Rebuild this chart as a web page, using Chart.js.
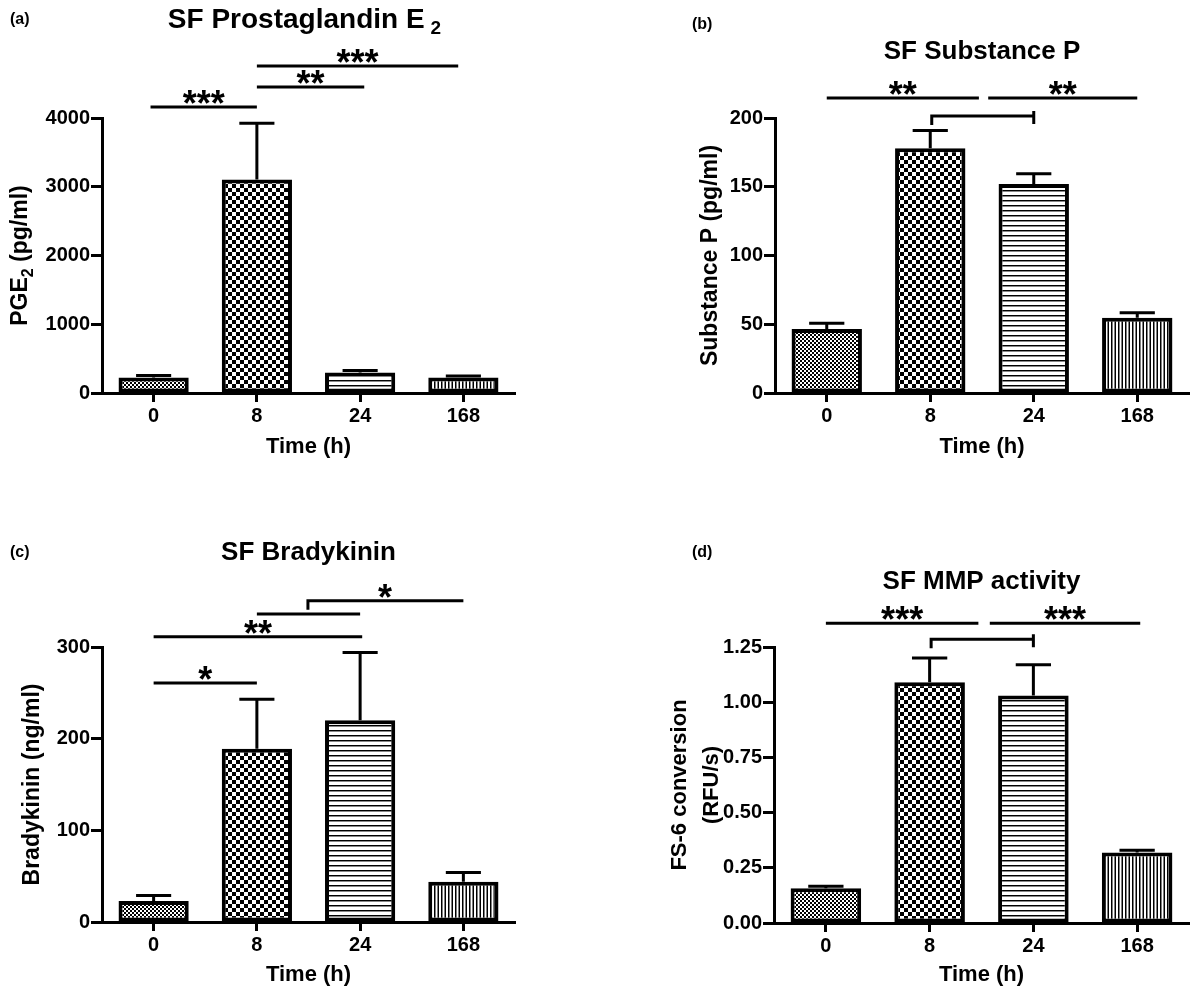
<!DOCTYPE html>
<html><head><meta charset="utf-8">
<script src="https://cdn.jsdelivr.net/npm/chart.js@4.4.1/dist/chart.umd.min.js"></script>
<style>
html,body{margin:0;padding:0;background:#fff;}
#wrap{position:relative;width:1200px;height:995px;overflow:hidden;background:#fff;}
.p{position:absolute;}
</style></head><body>
<div id="wrap">
<div class="p" style="left:0;top:0;width:600px;height:500px"><canvas id="ca"></canvas></div>
<div class="p" style="left:600px;top:0;width:600px;height:500px"><canvas id="cb"></canvas></div>
<div class="p" style="left:0;top:500px;width:600px;height:495px"><canvas id="cc"></canvas></div>
<div class="p" style="left:600px;top:500px;width:600px;height:495px"><canvas id="cd"></canvas></div>
</div>
<script>
// ---- data ----
const categories = ['0', '8', '24', '168'];

const pgeMean = [226, 3106, 299, 226];
const pgeSem  = [29, 816, 29, 20];
const pgeTicks = [0, 1000, 2000, 3000, 4000];

const spMean = [46.6, 178, 152, 54.8];
const spSem  = [4.1, 13, 7.5, 3.6];
const spTicks = [0, 50, 100, 150, 200];

const bkMean = [23, 189, 220, 44];
const bkSem  = [6, 54, 74, 10];
const bkTicks = [0, 100, 200, 300];

const mmpMean = [0.157, 1.09, 1.03, 0.319];
const mmpSem  = [0.010, 0.11, 0.14, 0.010];
const mmpTicks = [0, 0.25, 0.5, 0.75, 1.0, 1.25];

// significance comparisons: from/to in category index units, level in data units
const pgeSig = [
  {from: -0.03, to: 1, level: 4160, label: '***', kind: 'line'},
  {from: 1, to: 2.04, level: 4451, label: '**', kind: 'line'},
  {from: 1, to: 2.95, level: 4756, label: '***', kind: 'line'}
];
const spSig = [
  {from: 0, to: 1.47, level: 214.5, label: '**', kind: 'line'},
  {from: 1.56, to: 3.0, level: 214.5, label: '**', kind: 'line'},
  {from: 1, to: 2, level: 201.5, label: '', kind: 'hook'}
];
const bkSig = [
  {from: 0, to: 1, level: 260.7, label: '*', kind: 'line'},
  {from: 0, to: 2.02, level: 311.2, label: '**', kind: 'line'},
  {from: 1, to: 2, level: 336, label: '', kind: 'line'},
  {from: 1.48, to: 3.0, level: 350.5, label: '*', kind: 'hookL'}
];
const mmpSig = [
  {from: 0, to: 1.47, level: 1.357, label: '***', kind: 'line'},
  {from: 1.58, to: 3.03, level: 1.357, label: '***', kind: 'line'},
  {from: 1, to: 2, level: 1.285, label: '', kind: 'hook'}
];

// ---- styling helpers ----
const FONT = '"Liberation Sans", Arial, Helvetica, sans-serif';

function makePattern(type) {
  const c = document.createElement('canvas');
  let w = 4, h = 4;
  if (type === 'coarse') { w = 8; h = 8; }
  if (type === 'hlines') { w = 5; h = 5; }
  if (type === 'vlines') { w = 7; h = 7; }
  c.width = w; c.height = h;
  const g = c.getContext('2d');
  g.fillStyle = '#fff'; g.fillRect(0, 0, w, h);
  g.fillStyle = '#000';
  if (type === 'fine') { g.fillRect(0, 0, 2, 2); g.fillRect(2, 2, 2, 2); }
  if (type === 'coarse') { g.fillRect(0, 0, 4, 4); g.fillRect(4, 4, 4, 4); }
  if (type === 'hlines') { g.fillRect(0, 0, 5, 1); g.fillStyle = '#888'; g.fillRect(0, 1, 5, 1); }
  if (type === 'vlines') { g.fillRect(0, 0, 1.5, 7); g.fillRect(3.5, 0, 1.5, 7); }
  return g.createPattern(c, 'repeat');
}

function drawRich(ctx, parts, x, y, size, align) {
  let total = 0;
  const ws = parts.map(p => {
    ctx.font = 'bold ' + (p.sub ? Math.round(size * 0.68) : size) + 'px ' + FONT;
    const w = ctx.measureText(p.t).width + (p.gap || 0);
    total += w; return w;
  });
  let cx = align === 'left' ? x : x - total / 2;
  ctx.textAlign = 'left';
  ctx.textBaseline = 'middle';
  parts.forEach((p, i) => {
    ctx.font = 'bold ' + (p.sub ? Math.round(size * 0.68) : size) + 'px ' + FONT;
    ctx.fillText(p.t, cx + (p.gap || 0), y + (p.sub ? size * 0.32 : 0));
    cx += ws[i];
  });
}

const decorPlugin = {
  id: 'decor',
  afterDatasetsDraw(chart) {
    const ctx = chart.ctx;
    const cfg = chart.options.plugins.decor;
    const xs = chart.scales.x, ys = chart.scales.y;
    const meta = chart.getDatasetMeta(0);
    ctx.save();
    ctx.strokeStyle = '#000';
    ctx.fillStyle = '#000';
    ctx.lineWidth = 3;
    ctx.lineCap = 'butt';
    // error bars (upper)
    meta.data.forEach((el, i) => {
      const m = cfg.mean[i], s = cfg.sem[i];
      const yTop = ys.getPixelForValue(m + s);
      const half = el.width / 4;
      ctx.beginPath();
      ctx.moveTo(el.x, el.y);
      ctx.lineTo(el.x, yTop);
      ctx.moveTo(el.x - half, yTop);
      ctx.lineTo(el.x + half, yTop);
      ctx.stroke();
    });
    // significance brackets
    cfg.sig.forEach(b => {
      const x1 = xs.getPixelForValue(b.from), x2 = xs.getPixelForValue(b.to);
      const y = ys.getPixelForValue(b.level);
      ctx.beginPath();
      ctx.moveTo(x1, y); ctx.lineTo(x2, y);
      if (b.kind === 'hook' || b.kind === 'hookL') {
        ctx.moveTo(x1 + 1.5, y - 1.5); ctx.lineTo(x1 + 1.5, y + 9);
      }
      if (b.kind === 'hook') {
        ctx.moveTo(x2, y - 5); ctx.lineTo(x2, y + 8);
      }
      ctx.stroke();
      if (b.label) {
        ctx.font = 'bold 36px ' + FONT;
        ctx.textAlign = 'center';
        ctx.textBaseline = 'alphabetic';
        const mm = ctx.measureText(b.label);
        const target = y - 10;
        const base = target - (mm.actualBoundingBoxDescent - mm.actualBoundingBoxAscent) / 2;
        ctx.fillText(b.label, (x1 + x2) / 2, base);
      }
    });
    // texts
    const ca = chart.chartArea;
    const midX = (ca.left + ca.right) / 2, midY = (ca.top + ca.bottom) / 2;
    ctx.fillStyle = '#000';
    ctx.font = 'bold 16px ' + FONT;
    ctx.textAlign = 'left'; ctx.textBaseline = 'middle';
    ctx.fillText(cfg.letter.t, cfg.letter.x, cfg.letter.y);
    drawRich(ctx, cfg.title, midX - (cfg.titleShift || 0), cfg.titleY, cfg.titleSize || 26);
    drawRich(ctx, [{t: 'Time (h)'}], midX, cfg.xTitleY, 22);
    cfg.yTitle.forEach(line => {
      ctx.save();
      ctx.translate(line.x, midY);
      ctx.rotate(-Math.PI / 2);
      drawRich(ctx, line.parts, 0, 0, cfg.yTitleSize || 22);
      ctx.restore();
    });
    ctx.restore();
  }
};

function makeChart(id, mean, sem, ticks, fmt, pad, sig, texts) {
  const pats = [makePattern('fine'), makePattern('coarse'), makePattern('hlines'), makePattern('vlines')];
  const tickFont = {family: FONT, size: 20, weight: 'bold'};
  return new Chart(document.getElementById(id), {
    type: 'bar',
    data: {
      labels: categories,
      datasets: [{
        data: mean,
        backgroundColor: pats,
        borderColor: '#000',
        borderWidth: 4,
        borderSkipped: false,
        barPercentage: 0.68,
        categoryPercentage: 1
      }]
    },
    options: {
      responsive: true,
      maintainAspectRatio: false,
      animation: false,
      devicePixelRatio: 1,
      layout: {padding: pad},
      plugins: {
        legend: {display: false},
        tooltip: {enabled: false},
        decor: Object.assign({mean: mean, sem: sem, sig: sig}, texts)
      },
      scales: {
        x: {
          offset: true,
          grid: {display: true, offset: false, drawOnChartArea: false, drawTicks: true, tickLength: 9, tickWidth: 3, tickColor: '#000'},
          border: {display: true, width: 3, color: '#000'},
          ticks: {color: '#000', font: tickFont, padding: 2, maxRotation: 0},
          afterFit: s => { s.height = 40; }
        },
        y: {
          min: ticks[0], max: ticks[ticks.length - 1],
          afterBuildTicks: s => { s.ticks = ticks.map(v => ({value: v})); },
          grid: {display: true, drawOnChartArea: false, drawTicks: true, tickLength: 11, tickWidth: 3, tickColor: '#000'},
          border: {display: true, width: 3, color: '#000'},
          ticks: {color: '#000', font: tickFont, padding: 1, callback: fmt},
          afterFit: s => { s.width = 102; }
        }
      }
    },
    plugins: [decorPlugin]
  });
}

const intFmt = v => String(v);
const decFmt = v => Number(v).toFixed(2);

makeChart('ca', pgeMean, pgeSem, pgeTicks, intFmt, {left: 0, top: 118, right: 85, bottom: 67}, pgeSig, {
  letter: {t: '(a)', x: 10, y: 20},
  title: [{t: 'SF Prostaglandin E'}, {t: '2', sub: true, gap: 6}], titleY: 20, titleSize: 28, titleShift: 4,
  xTitleY: 447, yTitleSize: 23,
  yTitle: [{x: 21, parts: [{t: 'PGE'}, {t: '2', sub: true}, {t: ' (pg/ml)'}]}]
});
makeChart('cb', spMean, spSem, spTicks, intFmt, {left: 73, top: 118, right: 11, bottom: 67}, spSig, {
  letter: {t: '(b)', x: 92, y: 25},
  title: [{t: 'SF Substance P'}], titleY: 52,
  xTitleY: 447, yTitleSize: 23,
  yTitle: [{x: 111, parts: [{t: 'Substance P (pg/ml)'}]}]
});
makeChart('cc', bkMean, bkSem, bkTicks, intFmt, {left: 0, top: 147, right: 85, bottom: 33}, bkSig, {
  letter: {t: '(c)', x: 10, y: 53},
  title: [{t: 'SF Bradykinin'}], titleY: 53,
  xTitleY: 475, yTitleSize: 23,
  yTitle: [{x: 33, parts: [{t: 'Bradykinin (ng/ml)'}]}]
});
makeChart('cd', mmpMean, mmpSem, mmpTicks, decFmt, {left: 72, top: 147, right: 11, bottom: 32}, mmpSig, {
  letter: {t: '(d)', x: 92, y: 53},
  title: [{t: 'SF MMP activity'}], titleY: 82,
  xTitleY: 475, yTitleSize: 22,
  yTitle: [{x: 80, parts: [{t: 'FS-6 conversion'}]}, {x: 112, parts: [{t: '(RFU/s)'}]}]
});
</script>
</body></html>
